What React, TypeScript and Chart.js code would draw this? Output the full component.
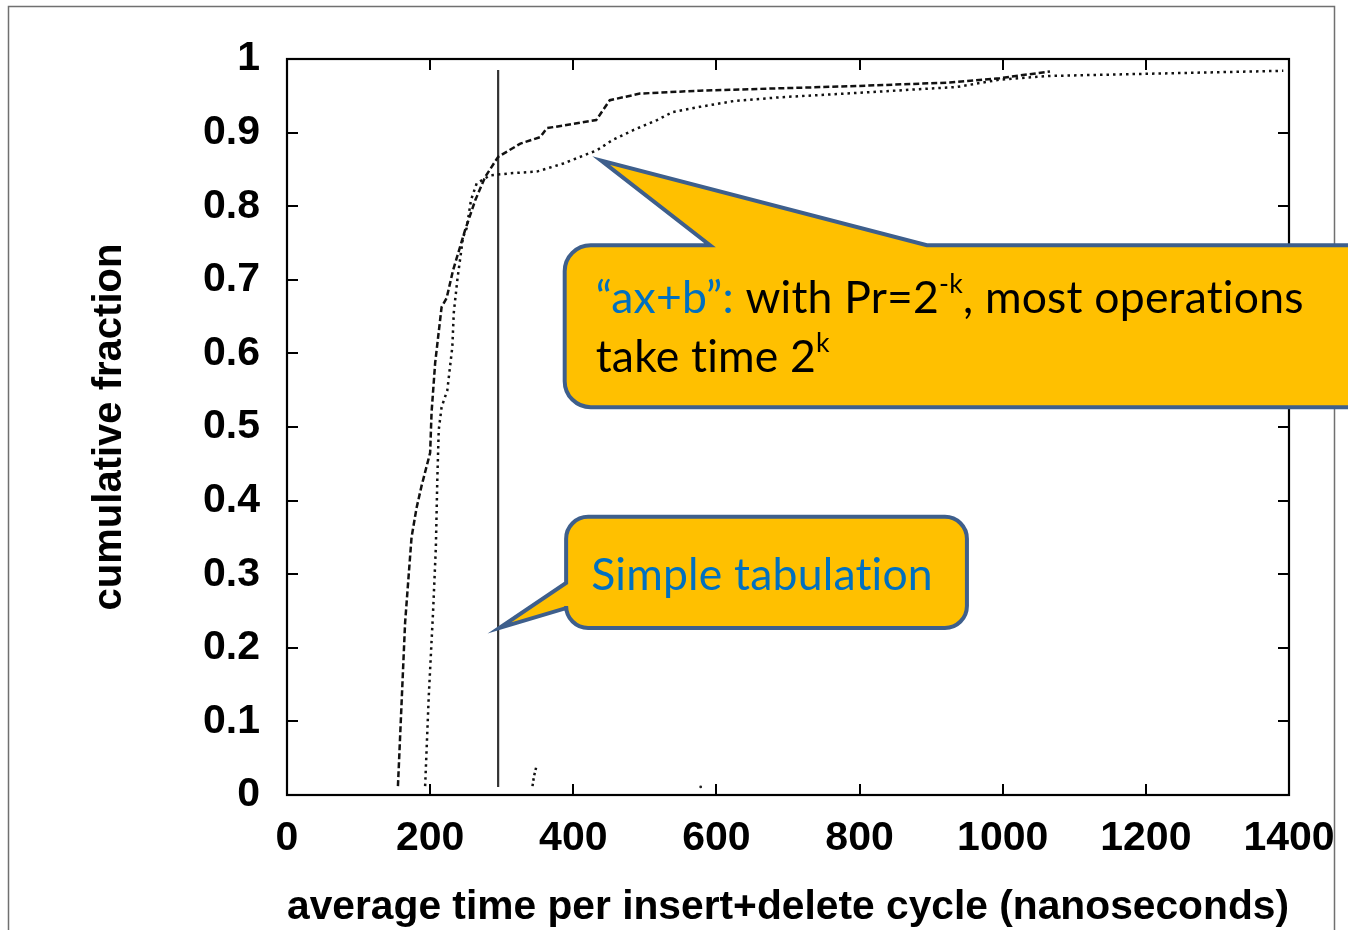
import React, { useEffect, useRef } from "react";
import { Chart, registerables } from "chart.js";

Chart.register(...registerables);

// ---- data ----
const xTickValues = [0, 200, 400, 600, 800, 1000, 1200, 1400];
const xTickLabels = ["0", "200", "400", "600", "800", "1000", "1200", "1400"];
const yTickValues = [0, 0.1, 0.2, 0.3, 0.4, 0.5, 0.6, 0.7, 0.8, 0.9, 1];
const yTickLabels = ["0", "0.1", "0.2", "0.3", "0.4", "0.5", "0.6", "0.7", "0.8", "0.9", "1"];

// dashed curve
const dashedX = [155, 165, 174, 181, 188, 200, 202, 207, 216, 223, 232, 249, 263, 277, 295, 326, 354, 363, 432, 451, 493, 577, 787, 926, 996, 1066];
const dashedY = [0.012, 0.234, 0.35, 0.39, 0.42, 0.465, 0.52, 0.587, 0.663, 0.675, 0.713, 0.768, 0.808, 0.84, 0.867, 0.885, 0.894, 0.906, 0.917, 0.944, 0.953, 0.957, 0.963, 0.968, 0.974, 0.983];

// dotted curve ("ax+b")
const dottedX = [193, 198, 204, 208, 210, 212, 216, 224, 231, 233, 238, 246, 251, 257, 265, 284, 316, 349, 386, 433, 455, 483, 517, 539, 577, 625, 689, 815, 936, 996, 1066, 1206, 1392];
const dottedY = [0.012, 0.133, 0.247, 0.337, 0.428, 0.496, 0.527, 0.55, 0.609, 0.655, 0.7, 0.758, 0.77, 0.808, 0.831, 0.842, 0.845, 0.847, 0.858, 0.876, 0.89, 0.903, 0.917, 0.928, 0.935, 0.943, 0.948, 0.955, 0.962, 0.972, 0.977, 0.98, 0.984];

// simple tabulation (solid, nearly vertical)
const tabX = [295, 295];
const tabY = [0.011, 0.985];

// small stray dotted segment near the axis
const strayX = [343, 345, 348];
const strayY = [0.012, 0.025, 0.037];
const strayDotX = [578];
const strayDotY = [0.011];

const toPts = (xs: number[], ys: number[]) => xs.map((x, i) => ({ x, y: ys[i] }));

// ---- callout anchors (data units) ----
const call1 = { tipX: 439, tipY: 0.862, x0: 388, x1: 1520, yTop: 0.747, yBot: 0.527, baseA: 591, baseB: 894 };
const call2 = { tipX: 297, tipY: 0.227, x0: 390, x1: 950, yTop: 0.378, yBot: 0.227, baseA: 0.288, baseB: 0.254 };

const AXIS_FONT = "'Liberation Sans', Arial, sans-serif";
const CALL_FONT = "Lato, 'Open Sans', sans-serif";
const FILL = "#FFC000";
const EDGE = "#3E5F8C";
const BLUE = "#0070C0";

function roundedCalloutPath(
  ctx: CanvasRenderingContext2D,
  x0: number, y0: number, x1: number, y1: number, r: number,
  top: null | { a: number; b: number; tx: number; ty: number },
  left: null | { a: number; b: number; tx: number; ty: number }
) {
  ctx.beginPath();
  ctx.moveTo(x0 + r, y0);
  if (top) {
    ctx.lineTo(top.a, y0);
    ctx.lineTo(top.tx, top.ty);
    ctx.lineTo(top.b, y0);
  }
  ctx.lineTo(x1 - r, y0);
  ctx.arcTo(x1, y0, x1, y0 + r, r);
  ctx.lineTo(x1, y1 - r);
  ctx.arcTo(x1, y1, x1 - r, y1, r);
  ctx.lineTo(x0 + r, y1);
  ctx.arcTo(x0, y1, x0, y1 - r, r);
  if (left) {
    ctx.lineTo(x0, left.b);
    ctx.lineTo(left.tx, left.ty);
    ctx.lineTo(x0, left.a);
  }
  ctx.lineTo(x0, y0 + r);
  ctx.arcTo(x0, y0, x0 + r, y0, r);
  ctx.closePath();
}

const decorPlugin = {
  id: "decor",
  beforeDraw(chart: any) {
    const ctx: CanvasRenderingContext2D = chart.ctx;
    ctx.save();
    ctx.fillStyle = "#fff";
    ctx.fillRect(0, 0, chart.width, chart.height);
    ctx.strokeStyle = "#707070";
    ctx.lineWidth = 1.5;
    ctx.beginPath();
    ctx.moveTo(8.5, chart.height + 10);
    ctx.lineTo(8.5, 6.5);
    ctx.lineTo(1334.5, 6.5);
    ctx.lineTo(1334.5, chart.height + 10);
    ctx.stroke();
    ctx.restore();
  },
  afterDatasetsDraw(chart: any) {
    const ctx: CanvasRenderingContext2D = chart.ctx;
    const { left, right, top, bottom } = chart.chartArea;
    const xs = chart.scales.x;
    const ys = chart.scales.y;
    const tl = 11;
    ctx.save();
    ctx.strokeStyle = "#000";
    ctx.lineWidth = 2;
    ctx.beginPath();
    xTickValues.forEach((v) => {
      const px = Math.round(xs.getPixelForValue(v));
      ctx.moveTo(px, bottom);
      ctx.lineTo(px, bottom - tl);
      ctx.moveTo(px, top);
      ctx.lineTo(px, top + tl);
    });
    yTickValues.forEach((v) => {
      const py = Math.round(ys.getPixelForValue(v));
      ctx.moveTo(left, py);
      ctx.lineTo(left + tl, py);
      ctx.moveTo(right, py);
      ctx.lineTo(right - tl, py);
    });
    ctx.stroke();
    ctx.lineWidth = 2.2;
    ctx.strokeRect(left, top, right - left, bottom - top);
    ctx.restore();
  },
  afterDraw(chart: any) {
    const ctx: CanvasRenderingContext2D = chart.ctx;
    const xs = chart.scales.x;
    const ys = chart.scales.y;
    const X = (v: number) => xs.getPixelForValue(v);
    const Y = (v: number) => ys.getPixelForValue(v);

    ctx.save();
    (ctx as any).letterSpacing = "0.2px";
    (ctx as any).textRendering = "optimizeSpeed";
    ctx.font = `100px ${CALL_FONT}`;
    const fs = (100 * 340) / ctx.measureText("Simple tabulation").width;
    const sup = fs * 0.6;

    ctx.lineWidth = 4;
    ctx.lineJoin = "miter";
    ctx.fillStyle = FILL;
    ctx.strokeStyle = EDGE;

    // callout 1
    const b1x0 = X(call1.x0), b1x1 = X(call1.x1), b1y0 = Y(call1.yTop), b1y1 = Y(call1.yBot);
    roundedCalloutPath(ctx, b1x0, b1y0, b1x1, b1y1, 26,
      { a: X(call1.baseA), b: X(call1.baseB), tx: X(call1.tipX), ty: Y(call1.tipY) }, null);
    ctx.fill();
    ctx.stroke();

    // callout 2
    const b2x0 = X(call2.x0), b2x1 = X(call2.x1), b2y0 = Y(call2.yTop), b2y1 = Y(call2.yBot);
    roundedCalloutPath(ctx, b2x0, b2y0, b2x1, b2y1, 22, null,
      { a: Y(call2.baseA), b: Y(call2.baseB), tx: X(call2.tipX), ty: Y(call2.tipY) });
    ctx.fill();
    ctx.stroke();

    // texts
    ctx.textBaseline = "alphabetic";
    ctx.textAlign = "left";
    const drawRuns = (runs: { t: string; c: string; s?: boolean }[], x: number, y: number) => {
      let cx = x;
      runs.forEach((r) => {
        ctx.font = `${r.s ? sup : fs}px ${CALL_FONT}`;
        ctx.fillStyle = r.c;
        ctx.fillText(r.t, cx, r.s ? y - fs * 0.45 : y);
        cx += ctx.measureText(r.t).width;
      });
    };
    const tx1 = b1x0 + 31;
    const ty1 = b1y0 + 68;
    drawRuns([
      { t: "\u201Cax+b\u201D:", c: BLUE },
      { t: " with Pr=2", c: "#000" },
      { t: "-k", c: "#000", s: true },
      { t: ", most operations", c: "#000" },
    ], tx1, ty1);
    drawRuns([
      { t: "take time 2", c: "#000" },
      { t: "k", c: "#000", s: true },
    ], tx1, ty1 + 59);

    drawRuns([{ t: "Simple tabulation", c: BLUE }], b2x0 + 25, b2y0 + 73);
    ctx.restore();
  },
};

export default function App() {
  const ref = useRef<HTMLCanvasElement | null>(null);
  useEffect(() => {
    if (!ref.current) return;
    const chart = new Chart(ref.current, {
      type: "line",
      data: {
        datasets: [
          {
            label: "dashed",
            data: toPts(dashedX, dashedY),
            borderColor: "#111",
            borderWidth: 2.5,
            borderDash: [6, 3],
            pointRadius: 0,
            tension: 0,
          },
          {
            label: "ax+b",
            data: toPts(dottedX, dottedY),
            borderColor: "#111",
            borderWidth: 2.5,
            borderDash: [2.5, 4],
            pointRadius: 0,
            tension: 0,
          },
          {
            label: "Simple tabulation",
            data: toPts(tabX, tabY),
            borderColor: "#333",
            borderWidth: 2.2,
            pointRadius: 0,
            tension: 0,
          },
          {
            label: "stray",
            data: toPts(strayX, strayY),
            borderColor: "#111",
            borderWidth: 2.5,
            borderDash: [2.5, 3],
            pointRadius: 0,
          },
          {
            label: "stray dot",
            data: toPts(strayDotX, strayDotY),
            showLine: false,
            pointRadius: 1.4,
            pointBackgroundColor: "#222",
            pointBorderWidth: 0,
          },
        ],
      },
      options: {
        animation: false,
        responsive: false,
        maintainAspectRatio: false,
        layout: { padding: { left: 0, top: 59, right: 59, bottom: 0 } },
        plugins: { legend: { display: false }, tooltip: { enabled: false } },
        scales: {
          x: {
            type: "linear",
            min: 0,
            max: 1400,
            afterBuildTicks: (s: any) => {
              s.ticks = xTickValues.map((v) => ({ value: v }));
            },
            afterFit: (s: any) => {
              s.height = 135;
              s.paddingLeft = 0;
              s.paddingRight = 0;
            },
            grid: { display: false, drawTicks: false },
            border: { display: false },
            ticks: {
              padding: 19,
              autoSkip: false,
              maxRotation: 0,
              color: "#000",
              font: { family: AXIS_FONT, size: 41, weight: "bold" },
              callback: (_v: any, i: number) => xTickLabels[i],
            },
            title: {
              display: true,
              text: "average time per insert+delete cycle (nanoseconds)",
              color: "#000",
              font: { family: AXIS_FONT, size: 41.5, weight: "bold", lineHeight: 1 },
              padding: { top: 0, bottom: 2 },
            },
          },
          y: {
            type: "linear",
            min: 0,
            max: 1,
            afterBuildTicks: (s: any) => {
              s.ticks = yTickValues.map((v) => ({ value: v }));
            },
            afterFit: (s: any) => {
              s.width = 287;
              s.paddingTop = 0;
              s.paddingBottom = 0;
            },
            grid: { display: false, drawTicks: false },
            border: { display: false },
            ticks: {
              padding: 27,
              autoSkip: false,
              color: "#000",
              font: { family: AXIS_FONT, size: 41, weight: "bold" },
              callback: (_v: any, i: number) => yTickLabels[i],
            },
            title: {
              display: true,
              text: "cumulative fraction",
              color: "#000",
              font: { family: AXIS_FONT, size: 40, weight: "bold", lineHeight: 1 },
              padding: { top: 90, bottom: 0 },
            },
          },
        },
      },
      plugins: [decorPlugin],
    } as any);
    return () => chart.destroy();
  }, []);
  return (
    <div style={{ position: "absolute", left: 0, top: 0, width: 1348, height: 930 }}>
      <canvas ref={ref} width={1348} height={930} style={{ display: "block" }} />
    </div>
  );
}
